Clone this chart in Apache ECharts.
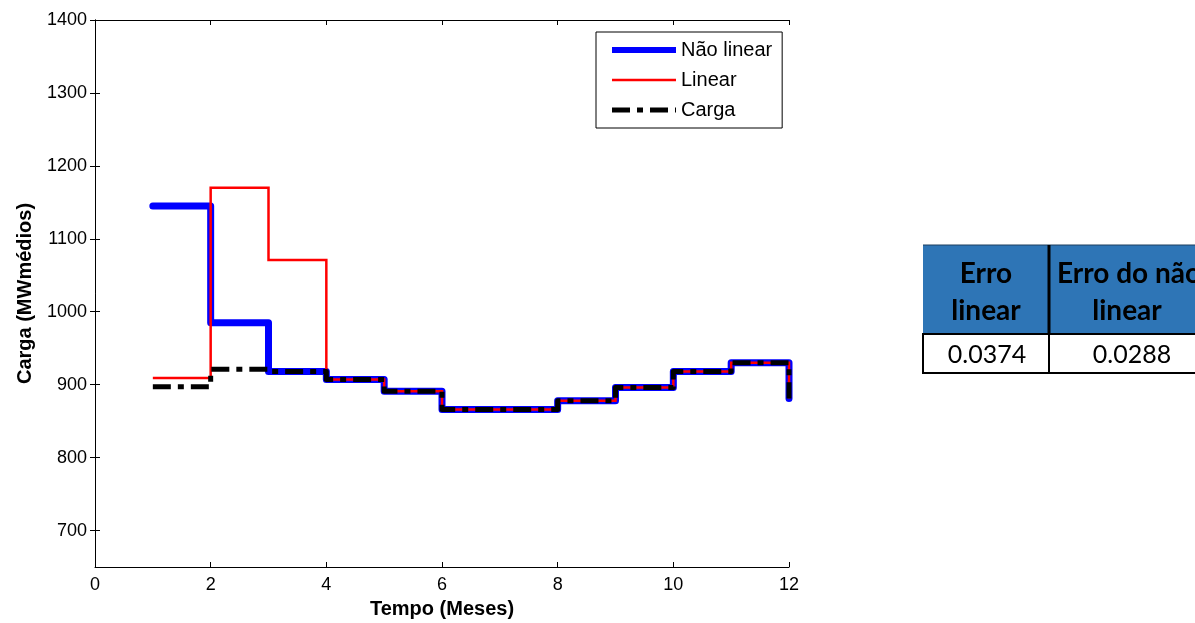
<!DOCTYPE html>
<html>
<head>
<meta charset="utf-8">
<script src="https://cdn.jsdelivr.net/npm/echarts@6/dist/echarts.min.js"></script>
<style>
  html, body { margin: 0; padding: 0; background: #fff; }
  #main { width: 1195px; height: 623px; }
</style>
</head>
<body>
<div id="main"></div>
<script>
// dados (degraus mensais)
var meses = [1, 2, 3, 4, 5, 6, 7, 8, 9, 10, 11, 12];
var naoLinear = [1145, 985, 918, 907, 891, 866, 866, 878, 896, 918, 930, 881];
var linear = [909, 1170, 1071, 907, 891, 866, 866, 878, 896, 918, 930, 881];
var carga = [897, 921, 918, 907, 891, 866, 866, 878, 896, 918, 930, 881];
var yTicks = [700, 800, 900, 1000, 1100, 1200, 1300, 1400];

// tabela de erros
var tabelaCabecalho = [['Erro', 'linear'], ['Erro do não', 'linear']];
var tabelaErros = ['0.0374', '0.0288'];

function pares(ys) {
  return meses.map(function (m, i) { return [m, ys[i]]; });
}

var fonte = '"Liberation Sans", Arial, sans-serif';
var fonteTabela = 'Lato, "Open Sans", sans-serif';
var tracoCarga = [18, 7, 6, 7];

var chart = echarts.init(document.getElementById('main'));

var eixoX = {
  type: 'value',
  min: 0,
  max: 12,
  interval: 2,
  axisLine: { show: true, lineStyle: { color: '#000', width: 1 } },
  axisTick: { show: true, inside: true, length: 5, lineStyle: { color: '#000' } },
  splitLine: { show: false }
};
var eixoY = {
  type: 'value',
  min: 650,
  max: 1400,
  axisLine: { show: true, lineStyle: { color: '#000', width: 1 } },
  axisTick: { show: true, inside: true, length: 5, customValues: yTicks, lineStyle: { color: '#000' } },
  splitLine: { show: false }
};

// tabela desenhada com graphic
var tx0 = 923, tdiv = 1049, tx1 = 1215;
var tTop = 245, tHead = 334, tBot = 373;
var graficos = [
  { type: 'rect', shape: { x: tx0, y: tTop, width: tx1 - tx0, height: tHead - tTop }, style: { fill: '#2e75b6' } },
  { type: 'line', shape: { x1: tx0, y1: tTop, x2: tx1, y2: tTop }, style: { stroke: '#1d3e5e', lineWidth: 1 } },
  { type: 'line', shape: { x1: tdiv, y1: tTop, x2: tdiv, y2: tHead }, style: { stroke: '#000', lineWidth: 3 } },
  { type: 'rect', shape: { x: tx0, y: tHead, width: tx1 - tx0, height: tBot - tHead }, style: { fill: '#fff', stroke: '#000', lineWidth: 2 } },
  { type: 'line', shape: { x1: tdiv, y1: tHead, x2: tdiv, y2: tBot }, style: { stroke: '#000', lineWidth: 2 } }
];
var centros = [986, 1129];
tabelaCabecalho.forEach(function (linhas, c) {
  linhas.forEach(function (t, k) {
    graficos.push({
      type: 'text',
      style: {
        text: t, x: k === 1 && c === 1 ? 1127 : centros[c], y: 274 + k * 37,
        textAlign: 'center', textVerticalAlign: 'middle',
        font: 'bold 28px ' + fonteTabela, fill: '#000'
      }
    });
  });
  graficos.push({
    type: 'text',
    style: {
      text: tabelaErros[c], x: c === 0 ? 987 : 1132, y: 355,
      textAlign: 'center', textVerticalAlign: 'middle',
      font: '25px ' + fonteTabela, fill: '#000'
    }
  });
});

var option = {
  animation: false,
  backgroundColor: '#fff',
  grid: { left: 95, right: 406, top: 20, bottom: 56, containLabel: false, outerBoundsMode: 'none' },
  legend: {
    orient: 'vertical',
    left: 596,
    top: 32,
    padding: [8, 10, 8, 13],
    itemGap: 10,
    itemWidth: 64,
    itemHeight: 20,
    borderColor: '#000',
    borderWidth: 1,
    backgroundColor: '#fff',
    itemStyle: { opacity: 0 },
    textStyle: { color: '#000', fontSize: 20, fontFamily: fonte },
    data: [
      { name: 'Não linear', lineStyle: { width: 6, color: '#0000ff', cap: 'butt' } },
      { name: 'Linear', lineStyle: { width: 2.5, color: '#ff0000' } },
      { name: 'Carga', lineStyle: { width: 5, color: '#000', type: tracoCarga } }
    ]
  },
  xAxis: [
    Object.assign({}, eixoX, {
      position: 'bottom',
      name: 'Tempo (Meses)',
      nameLocation: 'middle',
      nameGap: 32,
      nameTextStyle: { color: '#000', fontSize: 20, fontWeight: 'bold', fontFamily: fonte },
      axisLabel: { color: '#000', fontSize: 18, fontFamily: fonte, margin: 9 }
    }),
    Object.assign({}, eixoX, { position: 'top', axisLabel: { show: false } })
  ],
  yAxis: [
    Object.assign({}, eixoY, {
      position: 'left',
      name: 'Carga (MWmédios)',
      nameLocation: 'middle',
      nameGap: 60,
      nameTextStyle: { color: '#000', fontSize: 20, fontWeight: 'bold', fontFamily: fonte },
      axisLabel: {
        color: '#000', fontSize: 18, fontFamily: fonte, margin: 8, customValues: yTicks,
        formatter: function (v) { return String(v); }
      }
    }),
    Object.assign({}, eixoY, { position: 'right', axisLabel: { show: false } })
  ],
  series: [
    {
      name: 'Não linear',
      type: 'line',
      step: 'end',
      symbol: 'none',
      color: '#0000ff',
      lineStyle: { color: '#0000ff', width: 7, cap: 'round', join: 'round' },
      data: pares(naoLinear)
    },
    {
      name: 'Linear',
      type: 'line',
      step: 'end',
      symbol: 'none',
      color: '#ff0000',
      lineStyle: { color: '#ff0000', width: 2.5, cap: 'butt', join: 'miter' },
      data: pares(linear)
    },
    {
      name: 'Carga',
      type: 'line',
      step: 'end',
      symbol: 'none',
      color: '#000000',
      lineStyle: { color: '#000000', width: 5, type: tracoCarga, cap: 'butt', join: 'round' },
      data: pares(carga)
    }
  ],
  graphic: graficos
};

chart.setOption(option);
</script>
</body>
</html>
